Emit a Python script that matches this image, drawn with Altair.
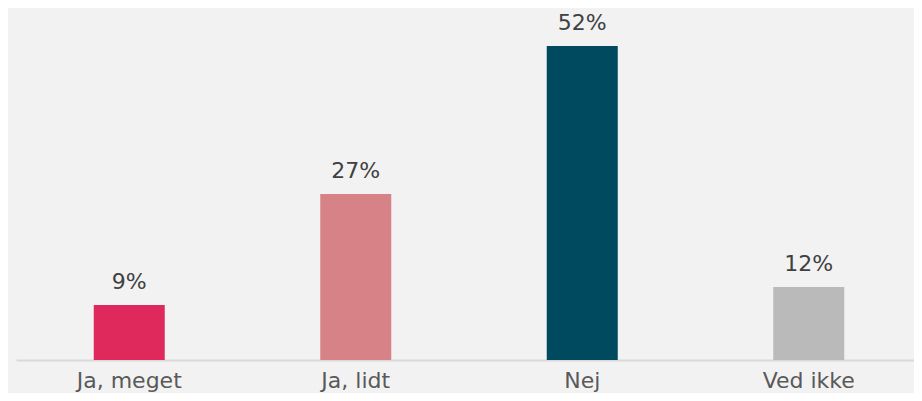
import altair as alt
import pandas as pd

categories = ["Ja, meget", "Ja, lidt", "Nej", "Ved ikke"]
values = [9.1, 27.5, 52.0, 12.1]
labels = ["9%", "27%", "52%", "12%"]
colors = ["#DF285B", "#D78287", "#004A5F", "#BABABA"]

df = pd.DataFrame({"cat": categories, "val": values, "lab": labels})

x = alt.X("cat:N", sort=categories, title=None,
          scale=alt.Scale(paddingInner=0, paddingOuter=0, range=[0, 906]),
          axis=alt.Axis(labelAngle=0, ticks=False, domainColor="#D9D9D9", domainWidth=2,
                        labelFont="DejaVu Sans", labelFontSize=22, labelColor="#595959",
                        labelPadding=10, grid=False))
y = alt.Y("val:Q", scale=alt.Scale(domain=[0, 55], nice=False, zero=True), axis=None)

bars = alt.Chart(df).mark_bar(size=71).encode(
    x=x, y=y,
    color=alt.Color("cat:N", sort=categories,
                    scale=alt.Scale(domain=categories, range=colors), legend=None),
)
text = alt.Chart(df).mark_text(baseline="alphabetic", dy=-16, font="DejaVu Sans",
                               fontSize=22, color="#404040").encode(
    x=alt.X("cat:N", sort=categories), y=y, text="lab:N")

chart = alt.layer(bars, text).properties(
    width=898, height=332, background="#F2F2F2",
    padding={"left": 8, "top": 20, "right": 0, "bottom": 33},
    autosize=alt.AutoSizeParams(type="none"),
).configure_view(stroke=None)

chart.save("out.html", embed_options={"renderer": "svg", "actions": False})
